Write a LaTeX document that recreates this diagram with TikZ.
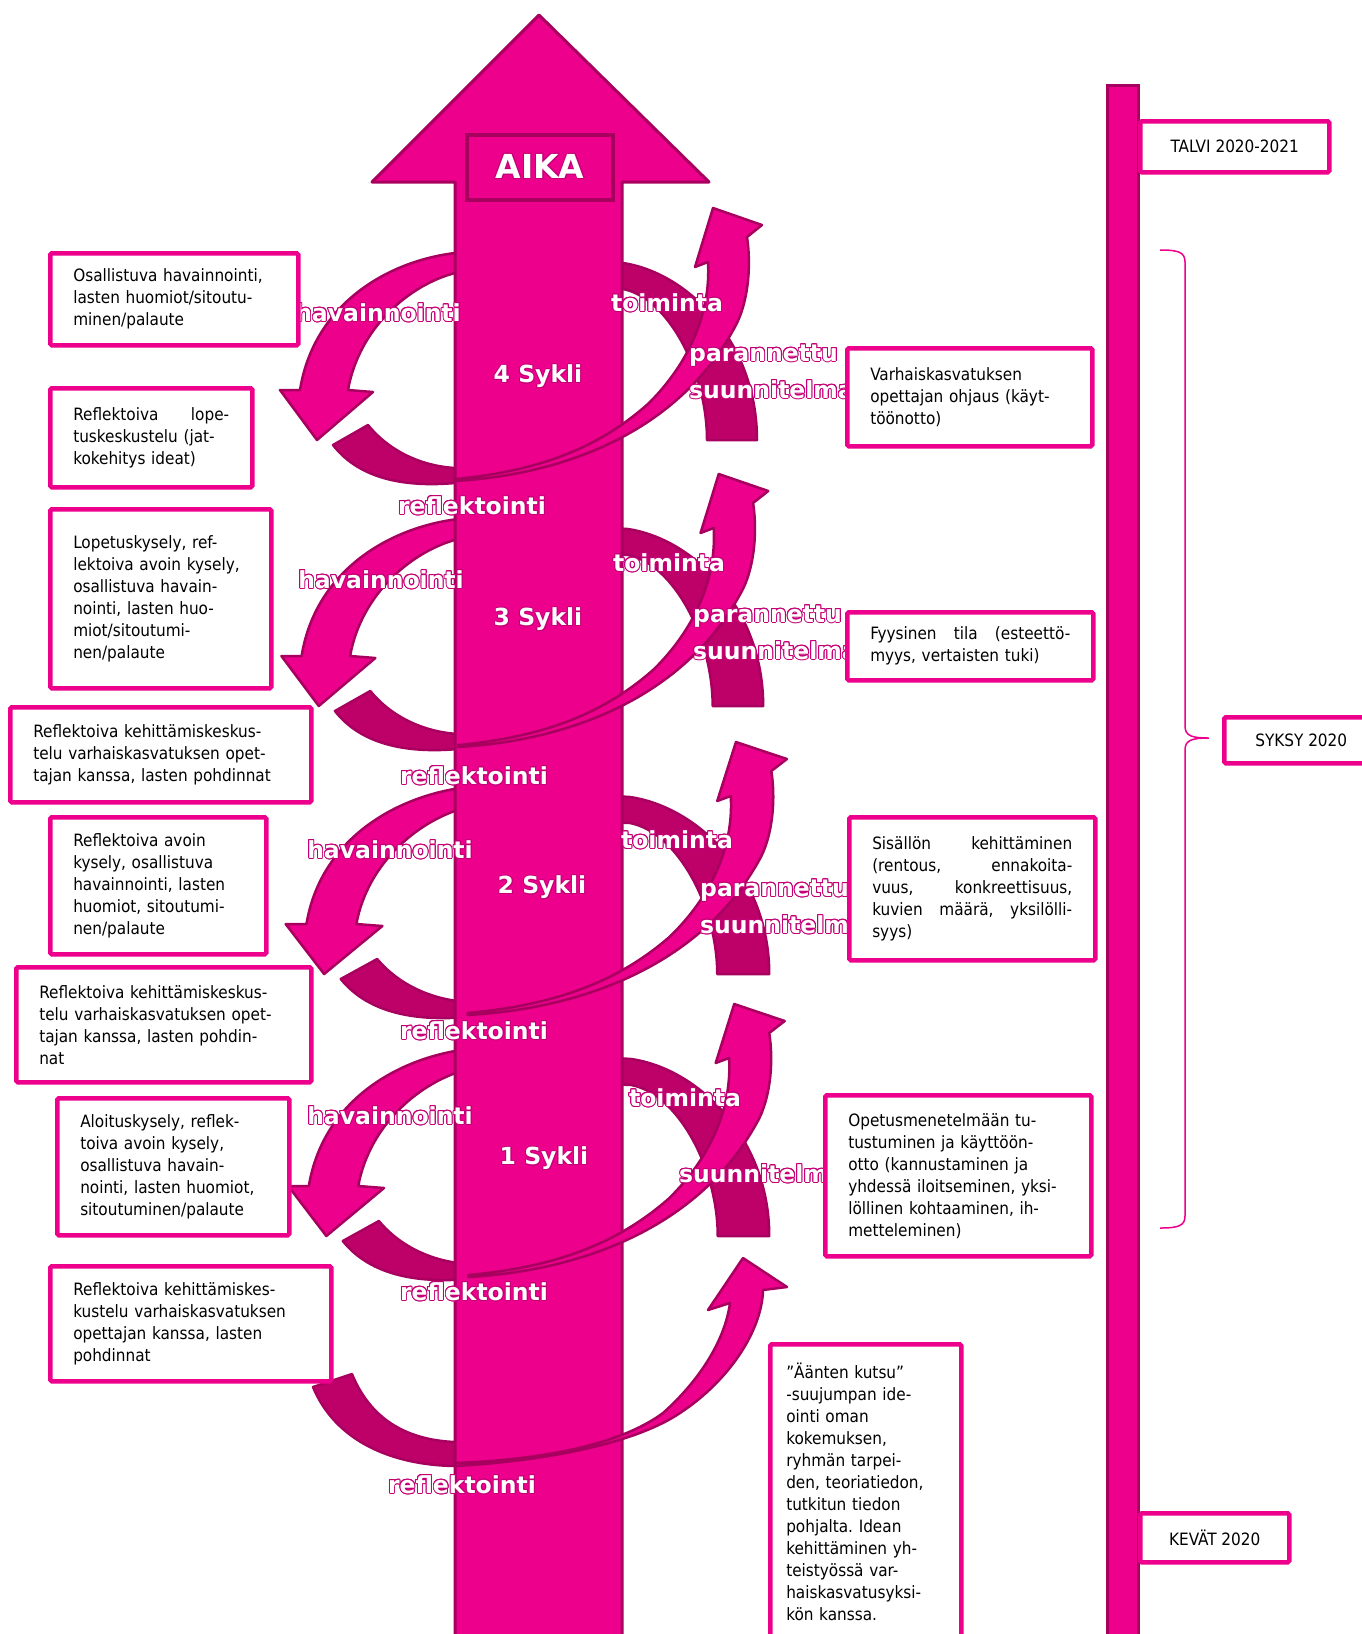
\documentclass[tikz,border=0pt]{standalone}
\usepackage{fontspec}
\setmainfont{DejaVu Sans Condensed}
\newfontfamily\labelfont{DejaVu Sans}
\usepackage[copies]{contour}
\contourlength{0.95pt}
\frenchspacing
\definecolor{aikapink}{RGB}{236,0,140}
\definecolor{aikadark}{RGB}{190,0,105}
\definecolor{aikaline}{RGB}{168,0,94}
\definecolor{aikarim}{RGB}{196,0,118}
\newcommand{\outlined}[1]{\contour{aikarim}{#1}}
\tikzset{
  front/.style={fill=aikapink, draw=aikaline, line width=2.5pt, line join=round},
  back/.style={fill=aikadark, draw=aikaline, line width=2.5pt, line join=round},
  lbl/.style={text=white, inner sep=0pt, font=\labelfont\bfseries\fontsize{23.5}{28}\selectfont},
  infobox/.style={draw=aikapink, line width=4.5pt, fill=white, rounded corners=1.5pt, anchor=north west,
    align=left, inner xsep=23pt, inner ysep=0pt, font=\fontsize{17}{22}\selectfont},
  seasonbox/.style={draw=aikapink, line width=4.5pt, fill=white, rounded corners=1.5pt, anchor=north west,
    inner sep=0pt, font=\fontsize{17}{22}\selectfont},
}

\begin{document}
\begin{tikzpicture}[x=1pt, y=-1pt]
\useasboundingbox (0,0) rectangle (1362,1634);

% back side of the cycles
\foreach \xo/\yo/\sc/\rb in {0/0/1/0, 4/266/1.01/0, 16/534/1.04/-12, 16/796/1.03/-10} {
  \begin{scope}[shift={(539+\xo,373+\yo)}, xscale=\sc]
    \draw[back, xshift=\rb] (40,-113) -- (84,-110) .. controls (150,-100) and (218,-30) .. (218,67)
      -- (168,67) .. controls (168,0) and (130,-75) .. (84,-84) -- (40,-86) -- cycle;
    \draw[back] (-206,72) .. controls (-178,108) and (-130,114) .. (-84,110) -- (-50,109)
      -- (-50,93) -- (-84,95) .. controls (-118,93) and (-150,78) .. (-171,52) -- cycle;
    \draw[front] (-50,-123) -- (-84,-120) .. controls (-150,-112) and (-225,-70) .. (-239,17)
      -- (-259,17) -- (-222,67) -- (-166,19) -- (-191,17)
      .. controls (-180,-45) and (-130,-88) .. (-84,-100) -- (-50,-101) -- cycle;
  \end{scope}
}
\draw[back] (313,1387) .. controls (335,1440) and (390,1465) .. (455,1466) -- (480,1466)
  -- (480,1442) -- (455,1442) .. controls (405,1440) and (370,1418) .. (352,1374) -- cycle;

% time arrow
\draw[front, line width=3pt] (455,1650) -- (455,182) -- (372,182) -- (539,15) -- (709,182)
  -- (622,182) -- (622,1650) -- cycle;
\node[draw=aikaline, fill=aikapink, line width=4pt, minimum width=146pt, minimum height=65pt,
  inner sep=0pt, text=white, font=\labelfont\bfseries\fontsize{33}{40}\selectfont] (aika) at (540,167) {\outlined{AIKA}};

% front side of the cycles
\foreach \xo/\yo/\sc in {0/0/1, 4/266/1.01, 16/534/1.04, 16/796/1.03} {
  \begin{scope}[shift={(539+\xo,373+\yo)}, xscale=\sc]
    \draw[front] (-84,108) .. controls (20,102) and (140,62) .. (198,-50)
      .. controls (210,-75) and (212,-110) .. (208,-136) -- (223,-148) -- (174,-165) -- (156,-106)
      -- (169,-111) .. controls (172,-60) and (150,-10) .. (110,30)
      .. controls (60,75) and (0,98) .. (-84,106) -- cycle;
  \end{scope}
}
\draw[front] (455,1466) .. controls (560,1460) and (640,1440) .. (680,1413)
  .. controls (730,1380) and (762,1330) .. (763,1290) -- (787,1287) -- (743,1258) -- (708,1310)
  -- (730,1303) .. controls (725,1340) and (700,1380) .. (663,1413)
  .. controls (620,1445) and (540,1460) .. (455,1463) -- cycle;

% labels on the cycles
\node[lbl] (syk4) at (538,377) {\outlined{4 Sykli}};
\node[lbl] (syk3) at (538,620) {\outlined{3 Sykli}};
\node[lbl] (syk2) at (542,888) {\outlined{2 Sykli}};
\node[lbl] (syk1) at (544,1159) {\outlined{1 Sykli}};
\node[lbl] (hav4) at (378,313) {\outlined{havainnointi}};
\node[lbl] (hav3) at (381,580) {\outlined{havainnointi}};
\node[lbl] (hav2) at (390,850) {\outlined{havainnointi}};
\node[lbl] (hav1) at (390,1116) {\outlined{havainnointi}};
\node[lbl] (toi4) at (667,303) {\outlined{toiminta}};
\node[lbl] (toi3) at (669,563) {\outlined{toiminta}};
\node[lbl] (toi2) at (677,840) {\outlined{toiminta}};
\node[lbl] (toi1) at (685,1098) {\outlined{toiminta}};
\node[lbl, align=left, anchor=west] (par4) at (689,372) {\outlined{parannettu}\\[9pt]\outlined{suunnitelma}};
\node[lbl, align=left, anchor=west] (par3) at (693,633) {\outlined{parannettu}\\[9pt]\outlined{suunnitelma}};
\node[lbl, align=left, anchor=west] (par2) at (700,907) {\outlined{parannettu}\\[9pt]\outlined{suunnitelma}};
\node[lbl, anchor=west] (par1) at (679,1174) {\outlined{suunnitelma}};
\node[lbl] (ref4) at (472,506) {\outlined{reflektointi}};
\node[lbl] (ref3) at (474,776) {\outlined{reflektointi}};
\node[lbl] (ref2) at (474,1031) {\outlined{reflektointi}};
\node[lbl] (ref1) at (474,1292) {\outlined{reflektointi}};
\node[lbl] (ref0) at (462,1485) {\outlined{reflektointi}};

% boxes on the left
\node[infobox, text width=202pt, minimum height=92pt] (l1) at (48,251)
  {Osallistuva havainnointi,\\lasten huomiot/sitoutu-\\minen/palaute};
\node[infobox, text width=156pt, minimum height=99pt] (l2) at (48,386)
  {Reflektoiva\hfill lope-\\tuskeskustelu (jat-\\kokehitys ideat)};
\node[infobox, text width=175pt, minimum height=179pt] (l3) at (48,507)
  {Lopetuskysely, ref-\\lektoiva avoin kysely,\\osallistuva havain-\\nointi, lasten huo-\\miot/sitoutumi-\\nen/palaute};
\node[infobox, text width=255pt, minimum height=95pt] (l4) at (8,705)
  {Reflektoiva kehittämiskeskus-\\telu varhaiskasvatuksen opet-\\tajan kanssa, lasten pohdinnat};
\node[infobox, text width=170pt, minimum height=137pt] (l5) at (48,815)
  {Reflektoiva avoin\\kysely, osallistuva\\havainnointi, lasten\\huomiot, sitoutumi-\\nen/palaute};
\node[infobox, text width=249pt, minimum height=115pt] (l6) at (14,965)
  {Reflektoiva kehittämiskeskus-\\telu varhaiskasvatuksen opet-\\tajan kanssa, lasten pohdin-\\nat};
\node[infobox, text width=186pt, minimum height=137pt] (l7) at (55,1096)
  {Aloituskysely, reflek-\\toiva avoin kysely,\\osallistuva havain-\\nointi, lasten huomiot,\\sitoutuminen/palaute};
\node[infobox, text width=235pt, minimum height=115pt] (l8) at (48,1264)
  {Reflektoiva kehittämiskes-\\kustelu varhaiskasvatuksen\\opettajan kanssa, lasten\\pohdinnat};

% boxes on the right
\node[infobox, text width=199pt, minimum height=98pt] (r4) at (845,346)
  {Varhaiskasvatuksen\\opettajan ohjaus (käyt-\\töönotto)};
\node[infobox, text width=200pt, minimum height=68pt] (r3) at (845,610)
  {Fyysinen\hfill tila\hfill (esteettö-\\myys, vertaisten tuki)};
\node[infobox, text width=200pt, minimum height=143pt] (r2) at (847,815)
  {Sisällön\hfill kehittäminen\\(rentous,\hfill ennakoita-\\vuus,\hfill konkreettisuus,\\kuvien\hfill määrä,\hfill yksilölli-\\syys)};
\node[infobox, text width=220pt, minimum height=161pt] (r1) at (823,1093)
  {Opetusmenetelmään tu-\\tustuminen ja käyttöön-\\otto (kannustaminen ja\\yhdessä iloitseminen, yksi-\\löllinen kohtaaminen, ih-\\metteleminen)};
\node[infobox, inner xsep=16pt, text width=159pt, minimum height=296pt] (r0) at (768,1342)
  {”Äänten kutsu”\\-suujumpan ide-\\ointi oman\\kokemuksen,\\ryhmän tarpei-\\den, teoriatiedon,\\tutkitun tiedon\\pohjalta. Idean\\kehittäminen yh-\\teistyössä var-\\haiskasvatusyksi-\\kön kanssa.};

% timeline
\draw[fill=aikapink, draw=aikaline, line width=3pt] (1107,85) rectangle (1138,1650);
\node[seasonbox, minimum width=189pt, minimum height=51pt] (talvi) at (1138,119) {TALVI 2020-2021};
\node[seasonbox, minimum width=154pt, minimum height=46pt] (syksy) at (1222,715) {SYKSY 2020};
\node[seasonbox, minimum width=149pt, minimum height=49pt] (kevat) at (1138,1511) {KEVÄT 2020};
\coordinate (bracetop) at (1160,250);
\coordinate (bracebot) at (1160,1228);
\draw[aikapink, line width=1.5pt] (bracetop) .. controls (1178,250) and (1185,252) .. (1185,262)
  -- (1185,726) .. controls (1185,736) and (1192,738) .. (1209,738)
  .. controls (1192,738) and (1185,740) .. (1185,750)
  -- (1185,1216) .. controls (1185,1226) and (1178,1228) .. (bracebot);
\end{tikzpicture}
\end{document}
